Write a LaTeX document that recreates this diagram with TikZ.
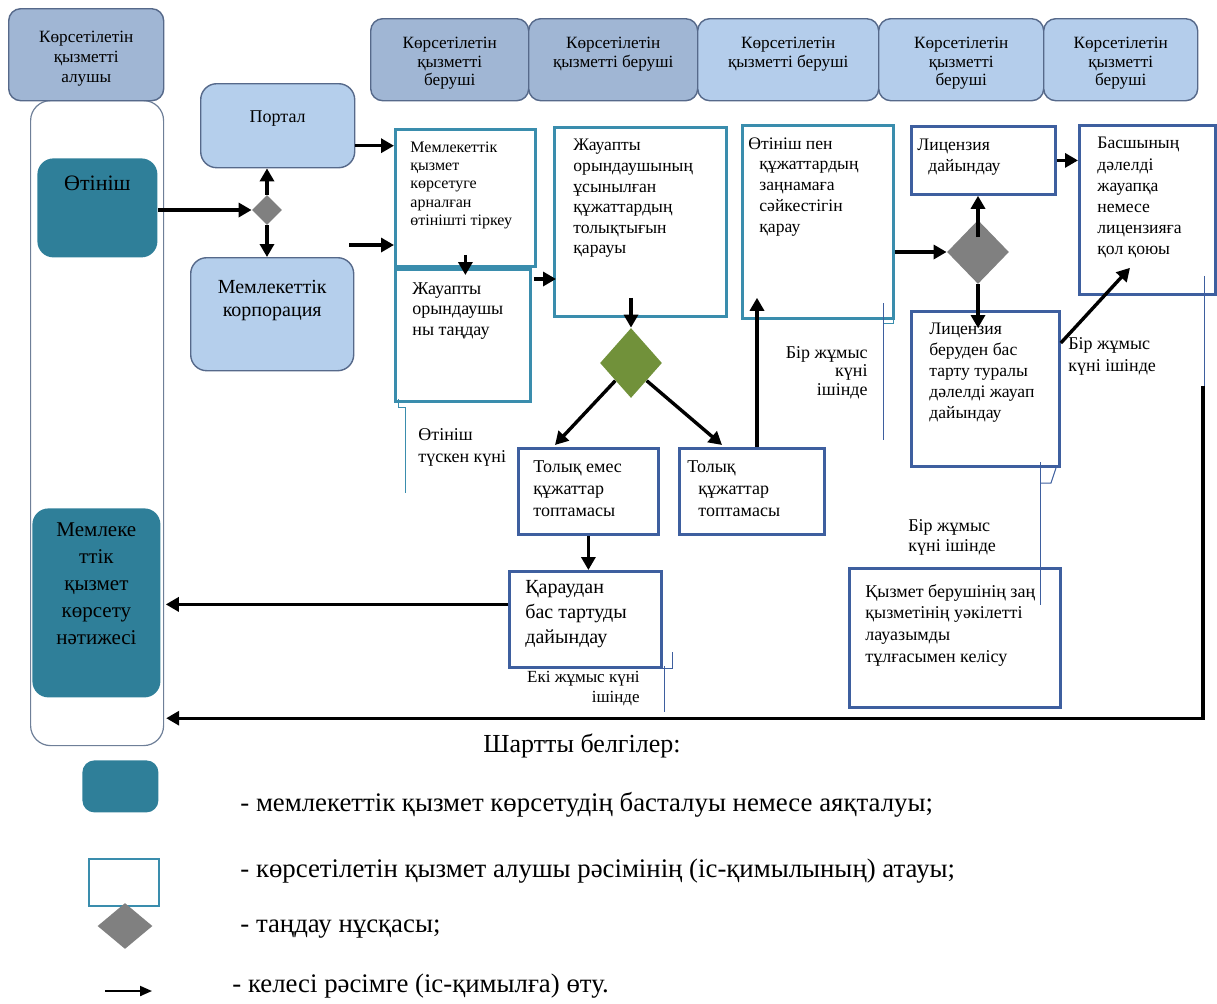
\documentclass[tikz,border=0pt]{standalone}
\usepackage{fontspec}
\setmainfont{Liberation Serif}
\usetikzlibrary{arrows.meta, shapes.geometric, positioning, calc}

\definecolor{hdark}{HTML}{A0B6D4}
\definecolor{hlight}{HTML}{B4CDEB}
\definecolor{hline}{HTML}{56698A}
\definecolor{pfill}{HTML}{B5CFEC}
\definecolor{startfill}{HTML}{2F7F99}
\definecolor{tline}{HTML}{3A8DAD}
\definecolor{bline}{HTML}{3E5F9F}
\definecolor{greenchoice}{HTML}{71913A}
\definecolor{graychoice}{HTML}{808080}
\definecolor{laneline}{HTML}{6E7F98}

\tikzset{
  boxsize/.style 2 args={minimum width=#1*0.5pt, minimum height=#2*0.5pt},
  hbox/.style={draw=hline, line width=0.7pt, rounded corners=6pt, anchor=north west, inner sep=0pt},
  htxt/.style={font=\fontsize{8.6}{9.3}\selectfont, align=center, inner sep=0pt, anchor=north},
  sbox/.style={draw=hline, fill=pfill, line width=0.7pt, rounded corners=8pt, anchor=north west},
  endbox/.style={fill=startfill, rounded corners=8pt, anchor=north west},
  tbox/.style={draw=tline, line width=1.4pt, anchor=north west},
  bbox/.style={draw=bline, line width=1.4pt, anchor=north west},
  txt/.style={inner sep=0pt, align=left, anchor=north west},
  choice/.style={diamond, inner sep=0pt},
  flow/.style={line width=1.7pt, -{Triangle[length=6.5pt,width=7pt]}},
  tickline/.style={draw=bline, line width=0.5pt},
  lgtxt/.style={font=\fontsize{13.4}{15}\selectfont, inner sep=0pt, anchor=west}
}

\begin{document}
\begin{tikzpicture}[x=0.5pt, y=-0.5pt]
    \useasboundingbox (0,0) rectangle (1217,1003);

    % Lane of the service receiver
    \node[draw=laneline, line width=0.6pt, rounded corners=10pt, anchor=north west, boxsize={133}{645}] (lane) at (30,100) {};
    \node[hbox, fill=hdark, boxsize={155}{92}] (recv) at (8,8) {};
    \node[htxt, font=\fontsize{8.6}{10}\selectfont] (recvt) at ($(recv.north)+(0,23)$) {Көрсетілетін\\қызметті\\алушы};

    % Lane heads of the service provider
    \foreach \nm/\x/\w/\col/\txt in {hA/370/158/hdark/{Көрсетілетін\\қызметті\\беруші},
        hB/528/169/hdark/{Көрсетілетін\\қызметті беруші},
        hC/697/181/hlight/{Көрсетілетін\\қызметті беруші},
        hD/878/165/hlight/{Көрсетілетін\\қызметті\\беруші},
        hE/1043/154/hlight/{Көрсетілетін\\қызметті\\беруші}} {
        \node[hbox, fill=\col, boxsize={\w}{82}] (\nm) at (\x,18) {};
        \node[htxt] (\nm t) at ($(\nm.north)+(0,19)$) {\txt};
    }

    % Start and end of the service
    \node[endbox, boxsize={120}{99}] (ot) at (37,158) {};
    \node[font=\fontsize{11}{13}\selectfont, inner sep=0pt, anchor=north] (ott) at ($(ot.north)+(0,18)$) {Өтініш};
    \node[endbox, boxsize={128}{189}] (res) at (32,508) {};
    \node[font=\fontsize{10.5}{13.5}\selectfont, align=center, inner sep=0pt, anchor=north] (rest) at ($(res.north)+(0,14)$) {Мемлеке\\ттік\\қызмет\\көрсету\\нәтижесі};

    % Portal and corporation
    \node[sbox, boxsize={154}{84}] (portal) at (200,83) {};
    \node[font=\fontsize{9}{11}\selectfont, inner sep=0pt, anchor=north] (portalt) at ($(portal.north)+(0,27)$) {Портал};
    \node[sbox, boxsize={163}{113}] (corp) at (190,257) {};
    \node[font=\fontsize{10}{11.5}\selectfont, align=center, inner sep=0pt, anchor=north] (corpt) at ($(corp.north)+(0,23)$) {Мемлекеттік\\корпорация};
    \node[choice, fill=graychoice, boxsize={30}{30}] (route) at (267,210) {};

    % Procedures
    \node[tbox, boxsize={140}{137}] (reg) at (394,128) {};
    \node[txt, font=\fontsize{8}{9.2}\selectfont] (regt) at ($(reg.north west)+(16,13)$) {Мемлекеттік\\қызмет\\көрсетуге\\арналған\\өтінішті тіркеу};
    \node[tbox, boxsize={135}{132}] (sel) at (394,268) {};
    \node[txt, font=\fontsize{9}{10.3}\selectfont] (selt) at ($(sel.north west)+(18,14)$) {Жауапты\\орындаушы\\ны таңдау};
    \node[tbox, boxsize={172}{189}] (chk) at (553,126) {};
    \node[txt, font=\fontsize{8.8}{10.3}\selectfont] (chkt) at ($(chk.north west)+(20,13)$) {Жауапты\\орындаушының\\ұсынылған\\құжаттардың\\толықтығын\\қарауы};
    \node[choice, fill=greenchoice, boxsize={62}{70}] (full) at (631,363) {};
    \node[bbox, boxsize={140}{86}] (inc) at (517,447) {};
    \node[txt, font=\fontsize{9}{11}\selectfont] (inct) at ($(inc.north west)+(16,13)$) {Толық емес\\құжаттар\\топтамасы};
    \node[bbox, boxsize={145}{86}] (cmp) at (678,447) {};
    \node[txt, font=\fontsize{9}{11}\selectfont] (cmpt) at ($(cmp.north west)+(9,13)$) {Толық\\\hspace*{5.5pt}құжаттар\\\hspace*{5.5pt}топтамасы};
    \node[tbox, boxsize={151}{193}] (law) at (741,124) {};
    \node[txt, font=\fontsize{8.8}{10.4}\selectfont] (lawt) at ($(law.north west)+(7,13)$) {Өтініш пен\\\hspace*{5.5pt}құжаттардың\\\hspace*{5.5pt}заңнамаға\\\hspace*{5.5pt}сәйкестігін\\\hspace*{5.5pt}қарау};
    \node[choice, fill=graychoice, boxsize={62}{64}] (dec) at (978,252) {};
    \node[bbox, boxsize={144}{68}] (lic) at (910,125) {};
    \node[txt, font=\fontsize{8.8}{10.5}\selectfont] (lict) at ($(lic.north west)+(7,14)$) {Лицензия\\\hspace*{5.5pt}дайындау};
    \node[bbox, boxsize={136}{169}] (sign) at (1078,124) {};
    \node[txt, font=\fontsize{8.8}{10.6}\selectfont] (signt) at ($(sign.north west)+(19,13)$) {Басшының\\дәлелді\\жауапқа\\немесе\\лицензияға\\қол қоюы};
    \node[bbox, boxsize={148}{155}] (den) at (910,310) {};
    \node[txt, font=\fontsize{8.8}{10.5}\selectfont] (dent) at ($(den.north west)+(19,13)$) {Лицензия\\беруден бас\\тарту туралы\\дәлелді жауап\\дайындау};
    \node[bbox, boxsize={211}{139}] (agr) at (848,567) {};
    \node[txt, font=\fontsize{9}{10.8}\selectfont] (agrt) at ($(agr.north west)+(17,17)$) {Қызмет берушінің заң\\қызметінің уәкілетті\\лауазымды\\тұлғасымен келісу};
    \node[bbox, boxsize={152}{96}] (ref) at (508,570) {};
    \node[txt, font=\fontsize{10}{12.5}\selectfont] (reft) at ($(ref.north west)+(17,10)$) {Қараудан\\бас тартуды\\дайындау};

    % Time limits
    \node[txt, font=\fontsize{9}{11}\selectfont] (dayA) at (418,428) {Өтініш\\түскен күні};
    \node[txt, anchor=north east, align=right, font=\fontsize{9}{9.3}\selectfont] (dayB) at (868,346) {Бір жұмыс\\күні\\ішінде};
    \node[txt, font=\fontsize{9}{11}\selectfont] (dayC) at (1068,337) {Бір жұмыс\\күні ішінде};
    \node[txt, font=\fontsize{9}{10}\selectfont] (dayD) at (908,519) {Бір жұмыс\\күні ішінде};
    \node[txt, anchor=north east, align=right, font=\fontsize{8.5}{10}\selectfont] (dayE) at (640,671) {Екі жұмыс күні\\ішінде};

    % Leftover text box edges
    \draw[tickline, draw=tline] (398,399) -- (398,407) -- (405,407) -- (405,493);
    \draw[tickline, draw=tline] (893,290) -- (893,323) -- (883,323);
    \draw[tickline] (883,303) -- (883,440);
    \draw[tickline] (1040,462) -- (1040,605);
    \draw[tickline] (1040,483) -- (1051,483) -- (1056,468);
    \draw[tickline] (660,668) -- (672,668) -- (672,652);
    \draw[tickline] (664,666) -- (664,712);

    % Arrows
    \draw[flow] (ot.east |- route.west) -- (route.west);
    \draw[flow] (route.north) -- (route.north |- portal.south);
    \draw[flow] (route.south) -- (route.south |- corp.north);
    \coordinate (p1) at ($(portal.east)+(0,20)$);
    \draw[flow] (p1) -- (p1 -| reg.west);
    \coordinate (p2) at ($(corp.north east)+(-5,-12)$);
    \draw[flow] (p2) -- (p2 -| reg.west);
    \coordinate (r1) at ($(reg.south)+(0,-13)$);
    \coordinate (r2) at ($(sel.north)+(0,7)$);
    \draw[flow] (r1) -- (r1 |- r2);
    \coordinate (s1) at ($(sel.north east)+(2,11)$);
    \draw[flow] (s1) -- ($(s1 -| chk.west)+(3,0)$);
    \coordinate (c1) at ($(chk.south -| full.north)+(0,-20)$);
    \draw[flow] (c1) -- (full.north);
    \draw[flow] (full.south west) -- ($(inc.north west)+(38,-2)$);
    \draw[flow] (full.south east) -- ($(cmp.north west)+(44,-2)$);
    \coordinate (k1) at ($(cmp.north west)+(79,0)$);
    \coordinate (k2) at ($(law.south)+(0,-22)$);
    \draw[flow] (k1) -- (k1 |- k2);
    \draw[flow] (inc.south) -- (inc.south |- ref.north);
    \coordinate (f1) at ($(ref.west)+(0,-15)$);
    \draw[flow] (f1) -- ($(f1 -| res.east)+(5,0)$);
    \draw[flow] (dec.west -| law.east) -- (dec.west);
    \coordinate (d1) at ($(dec.center)+(0,-15)$);
    \draw[flow] (d1) -- (d1 |- lic.south);
    \coordinate (d2) at ($(den.north)+(0,18)$);
    \draw[flow] (dec.south) -- (dec.south |- d2);
    \draw[flow] (lic.east) -- (lic.east -| sign.west);
    \draw[flow] ($(den.north east)+(0,33)$) -- ($(sign.south west)+(52,-28)$);
    \draw[tickline] ($(sign.south east)+(-12,-20)$) -- ($(sign.south east)+(-12,90)$);
    \coordinate (back) at ($(sign.south east)+(-14,90)$);
    \draw[flow] (back) |- ($(lane.south east)+(2,-28)$);

    % Legend
    \node[font=\fontsize{13}{15}\selectfont, inner sep=0pt] (legend) at (582,746) {Шартты белгілер:};
    \node[endbox, rounded corners=6pt, boxsize={76}{52}] (lgA) at (82,760) {};
    \node[tbox, line width=1.2pt, boxsize={70}{47}] (lgB) at (88,858) {};
    \node[choice, fill=graychoice, boxsize={55}{46}] (lgC) at (125,926) {};
    \coordinate (lgD) at (105,991);
    \coordinate (lgE) at (152,991);
    \draw[line width=1pt, -{Triangle[length=6pt,width=5pt]}] (lgD) -- (lgE);
    \node[lgtxt] (lgAt) at (240,805) {- мемлекеттік қызмет көрсетудің басталуы немесе аяқталуы;};
    \node[lgtxt] (lgBt) at (240,871) {- көрсетілетін қызмет алушы рәсімінің (іс-қимылының) атауы;};
    \node[lgtxt] (lgCt) at (240,929) {- таңдау нұсқасы;};
    \node[lgtxt] (lgDt) at (232,986) {- келесі рәсімге (іс-қимылға) өту.};
\end{tikzpicture}
\end{document}
